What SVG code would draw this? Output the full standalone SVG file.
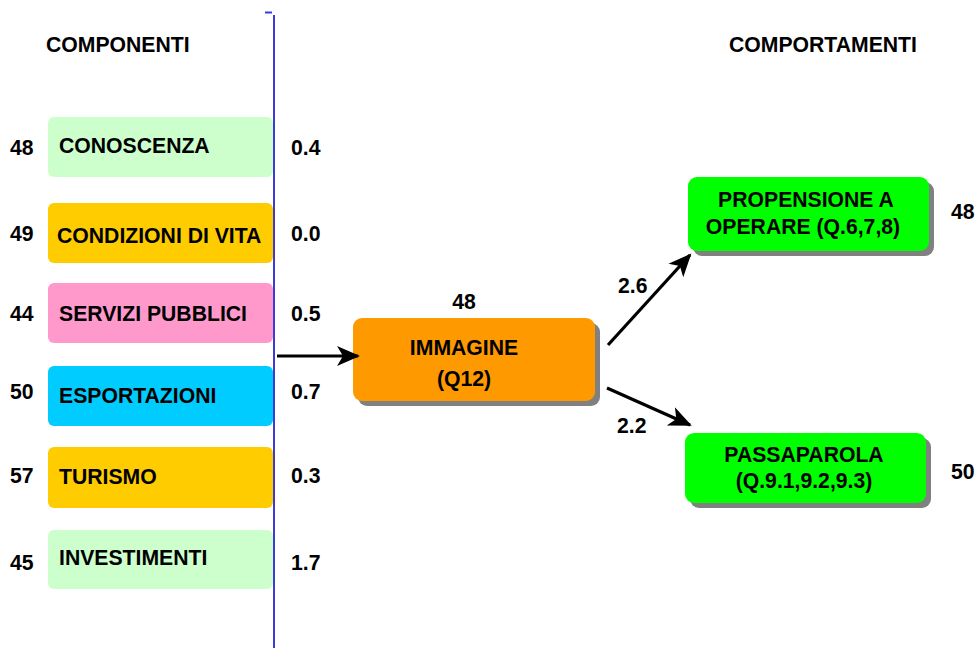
<svg xmlns="http://www.w3.org/2000/svg" width="977" height="648" viewBox="0 0 977 648">
<style>
text{font-family:"Liberation Sans",Arial,sans-serif;font-weight:bold;font-size:21.2px;fill:#000}
.c{text-anchor:middle}
.sh{fill:#808080}
.conn{stroke:#000;stroke-width:3.2;fill:none}
</style>
<defs>
<marker id="ah" markerUnits="userSpaceOnUse" markerWidth="26" markerHeight="22" refX="21" refY="10" orient="auto" viewBox="0 0 26 20">
<path d="M0,0 L23,10 L0,20 L6,10 Z" fill="#000"/>
</marker>
</defs>
<rect width="977" height="648" fill="#fff"/>
<g id="axis">
<line x1="274" y1="15" x2="274" y2="648" stroke="#3B3BD6" stroke-width="2"/>
<line x1="265" y1="12.5" x2="272" y2="12.5" stroke="#3B3BD6" stroke-width="2"/>
</g>
<g id="titles">
<text x="46" y="52">COMPONENTI</text>
<text x="729" y="52">COMPORTAMENTI</text>
</g>
<g id="conoscenza">
<rect x="48" y="117" width="225" height="60" rx="6" fill="#CCFFCC"/>
<text x="59" y="153">CONOSCENZA</text>
<text x="10" y="155">48</text>
<text x="291" y="155">0.4</text>
</g>
<g id="condizioni">
<rect x="48" y="203" width="225" height="60" rx="6" fill="#FFCC00"/>
<text x="57" y="243">CONDIZIONI DI VITA</text>
<text x="10" y="241">49</text>
<text x="291" y="241">0.0</text>
</g>
<g id="servizi">
<rect x="48" y="283" width="225" height="60" rx="6" fill="#FF99CC"/>
<text x="59" y="321">SERVIZI PUBBLICI</text>
<text x="10" y="321">44</text>
<text x="291" y="321">0.5</text>
</g>
<g id="esportazioni">
<rect x="48" y="366" width="225" height="60" rx="6" fill="#00CCFF"/>
<text x="59" y="403">ESPORTAZIONI</text>
<text x="10" y="399">50</text>
<text x="291" y="399">0.7</text>
</g>
<g id="turismo">
<rect x="48" y="447" width="225" height="61" rx="6" fill="#FFCC00"/>
<text x="59" y="484">TURISMO</text>
<text x="10" y="483">57</text>
<text x="291" y="483">0.3</text>
</g>
<g id="investimenti">
<rect x="48" y="530" width="225" height="59" rx="6" fill="#CCFFCC"/>
<text x="59" y="565">INVESTIMENTI</text>
<text x="10" y="570">45</text>
<text x="291" y="570">1.7</text>
</g>
<g id="immagine">
<rect class="sh" x="358" y="323" width="242" height="83" rx="9"/>
<rect x="353" y="318" width="242" height="83" rx="9" fill="#FF9900"/>
<text class="c" x="464" y="355">IMMAGINE</text>
<text class="c" x="464" y="386">(Q12)</text>
<text class="c" x="464" y="309">48</text>
</g>
<g id="propensione">
<rect class="sh" x="693" y="182" width="241" height="74" rx="9"/>
<rect x="688" y="177" width="241" height="74" rx="9" fill="#00FF00"/>
<text class="c" x="806" y="207">PROPENSIONE A</text>
<text class="c" x="803" y="234">OPERARE (Q.6,7,8)</text>
<text x="951" y="219">48</text>
</g>
<g id="passaparola">
<rect class="sh" x="690" y="438" width="241" height="70" rx="9"/>
<rect x="685" y="433" width="241" height="70" rx="9" fill="#00FF00"/>
<text class="c" x="804" y="462">PASSAPAROLA</text>
<text class="c" x="804" y="488">(Q.9.1,9.2,9.3)</text>
<text x="951" y="479">50</text>
</g>
<g id="connectors">
<line class="conn" x1="277" y1="356" x2="358" y2="356" marker-end="url(#ah)"/>
<line class="conn" x1="608" y1="345" x2="690" y2="255" marker-end="url(#ah)"/>
<line class="conn" x1="607" y1="388" x2="690" y2="425" marker-end="url(#ah)"/>
<text x="618" y="293">2.6</text>
<text x="617" y="433">2.2</text>
</g>
</svg>
